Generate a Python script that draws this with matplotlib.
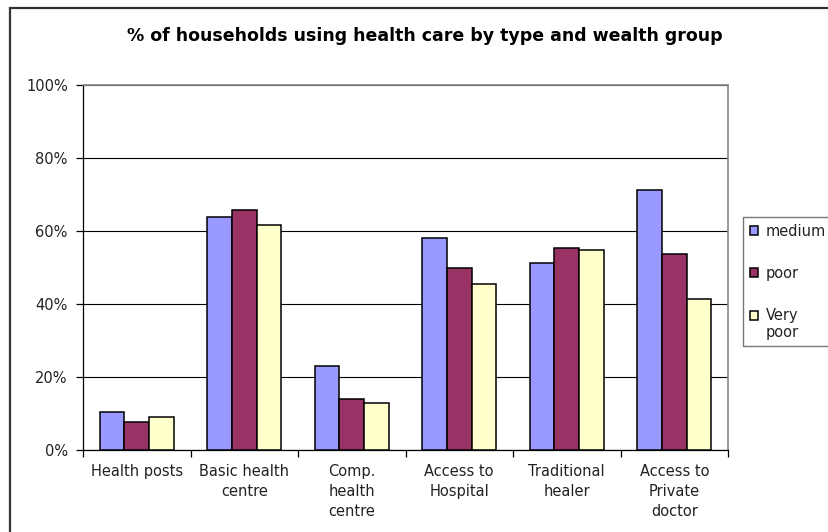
import matplotlib
matplotlib.use("Agg")
import matplotlib.pyplot as plt
import numpy as np
from matplotlib.patches import Rectangle
from matplotlib.legend_handler import HandlerPatch

categories = ["Health posts", "Basic health\ncentre", "Comp.\nhealth\ncentre",
              "Access to\nHospital", "Traditional\nhealer", "Access to\nPrivate\ndoctor"]
series_names = ["medium", "poor", "Very\npoor"]
medium = [10.3, 63.9, 23.1, 58.2, 51.1, 71.3]
poor = [7.8, 65.8, 14.1, 49.9, 55.3, 53.7]
very_poor = [9.1, 61.6, 13.0, 45.5, 54.9, 41.4]
y_ticks = [0, 20, 40, 60, 80, 100]
y_tick_labels = ["0%", "20%", "40%", "60%", "80%", "100%"]
title = "% of households using health care by type and wealth group"

colors = ["#9999FF", "#993366", "#FFFFCC"]

plt.rcParams['font.family'] = ['DejaVu Sans']
fig = plt.figure(figsize=(8.29, 5.32), dpi=100)
ax = fig.add_axes([83/829, 82/532, (728-83)/829, (450-85)/532])

x = np.arange(len(categories))
w = 0.228
bars = []
for i, (vals, c, name) in enumerate(zip([medium, poor, very_poor], colors, series_names)):
    b = ax.bar(x + (i - 1) * w, vals, width=w, color=c, edgecolor="black",
               linewidth=1.1, label=name, zorder=3)
    bars.append(b)

fs = 10.5
ax.set_xlim(-0.5, len(categories) - 0.5)
ax.set_ylim(0, 100)
ax.set_yticks(y_ticks)
ax.set_yticklabels(y_tick_labels, fontsize=fs, color="#222222")
ax.yaxis.grid(True, color="black", linewidth=0.8, zorder=0)
ax.set_axisbelow(True)

ax.set_xticks(x)
ax.set_xticklabels(categories, fontsize=fs, linespacing=1.42, va="top", color="#222222")
ax.tick_params(axis="x", which="major", length=0, pad=10)
ax.set_xticks(np.arange(-0.5, len(categories)), minor=True)
ax.tick_params(axis="x", which="minor", length=5, width=0.9, color="black")
ax.tick_params(axis="y", length=5, width=0.9, color="black", pad=6)

for s in ["left", "bottom"]:
    ax.spines[s].set_color("black")
    ax.spines[s].set_linewidth(0.9)
for s in ["top", "right"]:
    ax.spines[s].set_color("#888888")
    ax.spines[s].set_linewidth(1.2)

fig.text(425/829, 1 - 36/532, title, ha="center", va="center",
         fontsize=12.5, fontweight="bold", family="DejaVu Sans")


def top_line_patch(legend, orig_handle, xdescent, ydescent, width, height, fontsize):
    return Rectangle((-xdescent, -ydescent + 0.6 * fontsize), width, height)


handles = [b.patches[0] for b in bars]
leg = fig.legend(handles, series_names, loc="upper left",
                 bbox_to_anchor=(743/829, 1 - 217/532),
                 fontsize=fs, frameon=True, fancybox=False, borderaxespad=0,
                 handlelength=0.6, handleheight=0.6, handletextpad=0.5,
                 labelspacing=1.85, borderpad=0.45,
                 handler_map={handles[2]: HandlerPatch(patch_func=top_line_patch)})
leg.get_frame().set_edgecolor("#555555")
leg.get_frame().set_linewidth(1.0)
for t in leg.get_texts():
    t.set_color("#222222")

# outer chart border (only top and left visible)
fig.patches.append(Rectangle((10/829, -0.1), 1.2, 1 - 7.5/532 + 0.1,
                             transform=fig.transFigure, fill=False,
                             edgecolor="#333333", linewidth=1.6))

fig.savefig("out.png", dpi=100)
